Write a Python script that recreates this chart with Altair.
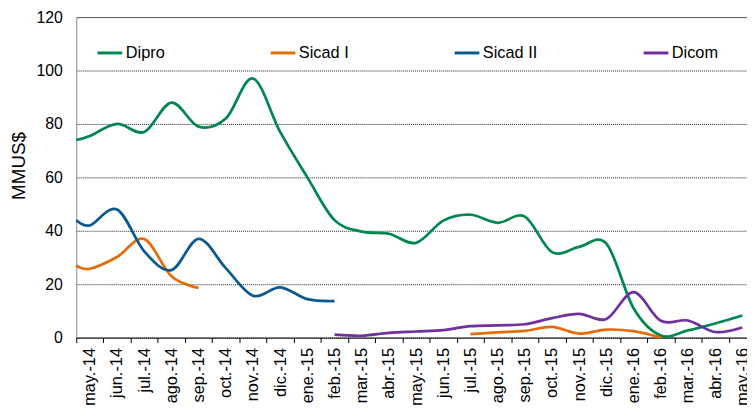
import altair as alt
import pandas as pd

months = ["may.-14", "jun.-14", "jul.-14", "ago.-14", "sep.-14", "oct.-14", "nov.-14",
          "dic.-14", "ene.-15", "feb.-15", "mar.-15", "abr.-15", "may.-15", "jun.-15",
          "jul.-15", "ago.-15", "sep.-15", "oct.-15", "nov.-15", "dic.-15", "ene.-16",
          "feb.-16", "mar.-16", "abr.-16", "may.-16"]

series_names = ["Dipro", "Sicad I", "Sicad II", "Dicom"]
series_colors = ["#00874F", "#E46C0A", "#0B5A8F", "#7030A0"]

dipro = [75.5, 80, 77, 88, 79, 82, 97, 77, 60, 44, 39.7, 38.9, 35.5, 43.8, 46, 43,
         45.3, 32, 34, 35.2, 11, 0.8, 2.7, 5.3, 8.3]
sicad1 = [25.8, 30.2, 36.9, 23, 18.6, None, None, None, None, None, None, None, None,
          None, 1.3, 2.0, 2.5, 4.0, 1.5, 3.0, 2.4, 0.0, None, None, None]
sicad2 = [42, 48, 32.3, 25.3, 37, 26, 15.7, 18.8, 14.4, 13.7, None, None, None, None,
          None, None, None, None, None, None, None, None, None, None, None]
dicom = [None, None, None, None, None, None, None, None, None, 1.1, 0.7, 1.8, 2.3, 2.8,
         4.3, 4.6, 5.0, 7.3, 8.9, 7.0, 17.0, 6.3, 6.4, 2.1, 3.8]
# value at the very start of the axis (left edge)
opening = {"Dipro": 74, "Sicad I": 27, "Sicad II": 44}

rows = []
for name, vals in zip(series_names, [dipro, sicad1, sicad2, dicom]):
    seg = 0
    prev = False
    if name in opening:
        rows.append(dict(series=name, seg=f"{name}-0", x=-0.5, v=opening[name]))
    for i, v in enumerate(vals):
        if v is None:
            if prev:
                seg += 1
            prev = False
            continue
        rows.append(dict(series=name, seg=f"{name}-{seg}", x=float(i), v=v))
        prev = True
df = pd.DataFrame(rows)

n = len(months)
plot_w = 687
tick_vals = [k - 0.5 for k in range(n + 1)]
month_js = "[" + ",".join("'" + m + "'" for m in months) + "]"
label_expr = f"{month_js}[round(datum.value + 0.5)] || ''"

FONT = "Liberation Sans"

x_axis = alt.Axis(values=tick_vals, labelExpr=label_expr, labelAngle=-90,
                  labelOffset=plot_w / n / 2, labelFlush=False, labelOverlap=False,
                  tickSize=5, tickColor="#000000", domainColor="#000000", grid=False,
                  title=None, labelFont=FONT, labelFontSize=16.5, labelColor="#000000",
                  labelPadding=5)

y_axis = alt.Axis(values=[0, 20, 40, 60, 80, 100, 120], grid=True,
                  gridDash={"condition": {"test": "datum.value === 120", "value": []},
                            "value": [1, 1]},
                  gridColor={"condition": {"test": "datum.value === 120", "value": "#505050"},
                             "value": "#222222"},
                  ticks=False, tickSize=0, domainColor="#888888", labelPadding=14,
                  labelFont=FONT, labelFontSize=16, labelColor="#000000",
                  title="MMUS$", titleFont=FONT, titleFontSize=19,
                  titleFontWeight="normal", titleColor="#000000", titlePadding=8,
                  titleY=150)

chart = alt.Chart(df).mark_line(interpolate="cardinal", strokeWidth=2.75).encode(
    x=alt.X("x:Q", scale=alt.Scale(domain=[-0.5, n - 0.5], range=[0, plot_w],
                                   nice=False, zero=False), axis=x_axis),
    y=alt.Y("v:Q", scale=alt.Scale(domain=[0, 120], nice=False), axis=y_axis),
    color=alt.Color("series:N",
                    scale=alt.Scale(domain=series_names, range=series_colors),
                    sort=series_names,
                    legend=alt.Legend(orient="none", legendX=20, legendY=22,
                                      direction="horizontal", columns=4, title=None,
                                      symbolType="stroke", symbolSize=625,
                                      symbolStrokeWidth=3, labelFont=FONT,
                                      labelFontSize=16.5, labelColor="#000000",
                                      columnPadding=100, labelOffset=2, padding=0)),
    detail="seg:N",
).properties(
    width=678, height=324,
    padding={"left": 69, "top": 7, "right": 0, "bottom": 75},
    autosize=alt.AutoSizeParams(type="none"),
).configure_view(stroke=None)

chart.save("out.html", embed_options={"renderer": "svg", "actions": False})
